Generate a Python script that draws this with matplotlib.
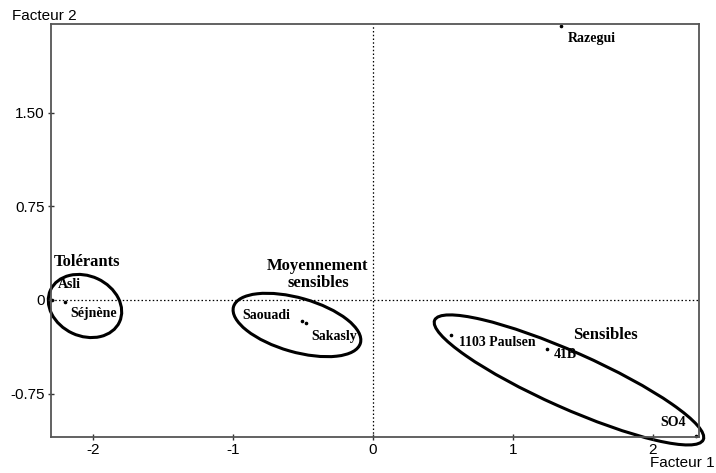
import matplotlib
matplotlib.use("Agg")
import matplotlib.pyplot as plt
from matplotlib.patches import Ellipse
from matplotlib.transforms import ScaledTranslation

# ---- data (Facteur 1, Facteur 2 scores) ----
names = ["Razegui", "Asli", "Séjnène", "Saouadi", "Sakasly", "1103 Paulsen", "41B", "SO4"]
f1 = [1.34, -2.29, -2.20, -0.51, -0.48, 0.56, 1.24, 2.31]
f2 = [2.19, 0.00, -0.02, -0.17, -0.185, -0.28, -0.39, -1.085]

groups = ["Tolérants", "Moyennement\nsensibles", "Sensibles"]
xticks = [-2, -1, 0, 1, 2]
yticks = [-0.75, 0, 0.75, 1.50]
yticklabels = ["-0.75", "0", "0.75", "1.50"]

# ---- layout (label anchors, ellipse geometry) ----
label_pos = [(1.393, 2.09), (-2.25, 0.128), (-2.164, -0.112), (-0.936, -0.128),
             (-0.443, -0.296), (0.614, -0.344), (1.293, -0.44), (2.05, -0.977)]
group_pos = [(-2.279, 0.304, "left"), (-0.393, 0.204, "center"), (1.429, -0.28, "left")]
# centre (data), width/height (inches), angle (deg)
ellipses = [((-2.057, -0.048), 0.76, 0.60, -25),
            ((-0.543, -0.20), 1.32, 0.54, -16),
            ((1.40, -0.64), 2.94, 0.56, -24)]

fig = plt.figure(figsize=(7.16, 4.73), dpi=100)
ax = fig.add_axes([0.0712, 0.0761, 0.9763 - 0.0712, 0.9493 - 0.0761])
ax.set_xlim(-2.30, 2.329)
ax.set_ylim(-1.097, 2.21)

ax.axhline(0, color="black", linestyle=(0, (1.2, 1.8)), linewidth=0.9)
ax.axvline(0, color="black", linestyle=(0, (1.2, 1.8)), linewidth=0.9)

ax.plot(f1, f2, linestyle="none", marker="o", markersize=1.6, color="black", clip_on=False)

serif = ["Liberation Serif", "DejaVu Serif"]
for n, (lx, ly) in zip(names, label_pos):
    ax.text(lx, ly, n, family=serif, fontweight="bold", fontsize=10, ha="left", va="center")
for g, (gx, gy, ha) in zip(groups, group_pos):
    ax.text(gx, gy, g, family=serif, fontweight="bold", fontsize=12, ha=ha, va="center",
            linespacing=1.15, multialignment="center")

for (cx, cy), w, h, ang in ellipses:
    tr = fig.dpi_scale_trans + ScaledTranslation(cx, cy, ax.transData)
    e = Ellipse((0, 0), w, h, angle=ang, transform=tr, fill=False,
                edgecolor="black", linewidth=2.2, clip_on=False)
    ax.add_artist(e)

for s in ax.spines.values():
    s.set_color("#555555")
    s.set_linewidth(1.3)

sans = ["Liberation Sans", "DejaVu Sans"]
ax.set_xticks(xticks)
ax.set_xticklabels([str(t) for t in xticks], family=sans, fontsize=11)
ax.set_yticks(yticks)
ax.set_yticklabels(yticklabels, family=sans, fontsize=11)
ax.tick_params(direction="inout", length=5, width=1, color="#333333", pad=2)

fig.text(12 / 716, 1 - 16 / 473, "Facteur 2", family=sans, fontsize=11, ha="left", va="center")
fig.text(650 / 716, 1 - 463 / 473, "Facteur 1", family=sans, fontsize=11, ha="left", va="center")

fig.savefig("out.png", dpi=100)
